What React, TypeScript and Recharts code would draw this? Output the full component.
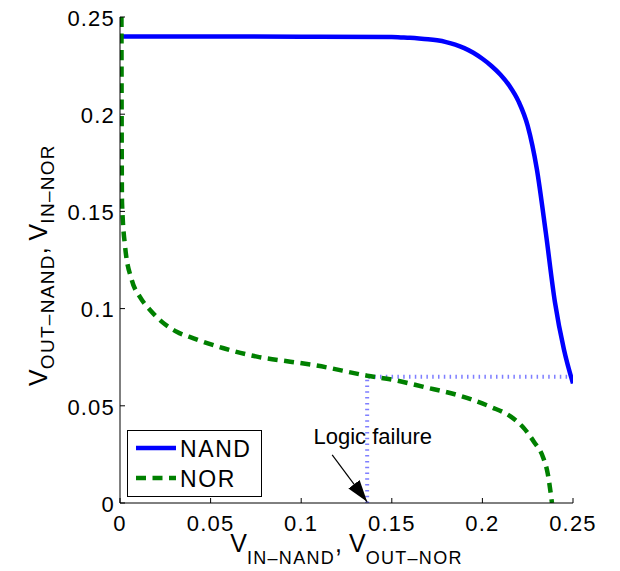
import { Legend, Line, LineChart, ReferenceDot, XAxis, YAxis } from "recharts";

const FONT = "'Liberation Sans', Arial, Helvetica, sans-serif";

// NAND transfer curve
const nandX = [0, 0.05, 0.1, 0.15, 0.155, 0.16, 0.165, 0.17, 0.175, 0.18, 0.185, 0.19, 0.195, 0.2, 0.205, 0.21, 0.215, 0.22, 0.225, 0.23, 0.235, 0.24, 0.245, 0.25];
const nandY = [0.24, 0.24, 0.2399, 0.2397, 0.2395, 0.2393, 0.239, 0.2386, 0.238, 0.2371, 0.2358, 0.234, 0.2316, 0.2285, 0.2248, 0.2203, 0.2145, 0.2065, 0.194, 0.172, 0.139, 0.1035, 0.079, 0.0615];

// NOR transfer curve
const norX = [0.0008, 0.0009, 0.0011, 0.0028, 0.0065, 0.011, 0.0166, 0.023, 0.0313, 0.0406, 0.0572, 0.0756, 0.094, 0.1068, 0.1364, 0.151, 0.1677, 0.186, 0.2047, 0.2157, 0.223, 0.2285, 0.2334, 0.236, 0.2384];
const norY = [0.25, 0.2, 0.155, 0.132, 0.1147, 0.106, 0.0993, 0.0933, 0.0881, 0.0847, 0.0796, 0.0753, 0.0727, 0.071, 0.0655, 0.0633, 0.0597, 0.0556, 0.0494, 0.0444, 0.0384, 0.0314, 0.0237, 0.0154, 0];

// dotted guide through the failure point
const failX = [0.1364, 0.1364, 0.25];
const failY = [0, 0.065, 0.065];

// annotation arrow (start -> tip) and text anchor
const arrowX = [0.1171, 0.1364];
const arrowY = [0.0247, 0.0006];
const noteAt = { x: 0.104, y: 0.0344, text: "Logic failure" };

const ticks = [0, 0.05, 0.1, 0.15, 0.2, 0.25];
const tickText = ["0", "0.05", "0.1", "0.15", "0.2", "0.25"];

const toPoints = (xs: number[], ys: number[]) => xs.map((x, i) => ({ x, y: ys[i] }));
const nandData = toPoints(nandX, nandY);
const norData = toPoints(norX, norY);
const failData = toPoints(failX, failY);
const arrowData = toPoints(arrowX, arrowY);

const fmt = (v: number) => tickText[ticks.indexOf(v)] ?? String(v);

function XTitle({ viewBox }: any) {
  const cx = viewBox.x + viewBox.width / 2;
  return (
    <text x={cx} y={viewBox.y + 49} textAnchor="middle" fontFamily={FONT} fill="#000">
      <tspan fontSize={25}>V</tspan>
      <tspan fontSize={18} dy={12} letterSpacing={1.3}>IN–NAND</tspan>
      <tspan fontSize={25} dy={-12}>, V</tspan>
      <tspan fontSize={18} dy={12} letterSpacing={1.3}>OUT–NOR</tspan>
    </text>
  );
}

function YTitle({ viewBox }: any) {
  const bx = 47;
  const cy = viewBox.y + viewBox.height / 2 + 5;
  return (
    <text
      x={bx}
      y={cy}
      transform={`rotate(-90 ${bx} ${cy})`}
      textAnchor="middle"
      fontFamily={FONT}
      fill="#000"
    >
      <tspan fontSize={25}>V</tspan>
      <tspan fontSize={19} dy={7} letterSpacing={1.3}>OUT–NAND</tspan>
      <tspan fontSize={25} dy={-7}>, V</tspan>
      <tspan fontSize={19} dy={7} letterSpacing={1.3}>IN–NOR</tspan>
    </text>
  );
}

function LegendBox() {
  return (
    <div style={{ width: 135, height: 67, border: "1px solid #000", background: "#fff", boxSizing: "border-box" }}>
      <svg width={133} height={65} style={{ display: "block" }}>
        <line x1={8} x2={48} y1={17} y2={17} stroke="#0000ff" strokeWidth={4.5} />
        <text x={52} y={26} fontSize={23} fontFamily={FONT} letterSpacing={1.6}>NAND</text>
        <line x1={8} x2={48} y1={47} y2={47} stroke="#008000" strokeWidth={4.5} strokeDasharray="10 6.5" />
        <text x={52} y={56} fontSize={23} fontFamily={FONT} letterSpacing={1.6}>NOR</text>
      </svg>
    </div>
  );
}

const tickStyle = { fontSize: 22, fontFamily: FONT, fill: "#000", letterSpacing: 1.2 };

export default function App() {
  return (
    <div style={{ position: "absolute", left: 0, top: 0, background: "#fff" }}>
      <LineChart width={620} height={571} margin={{ top: 17, right: 47, bottom: 0, left: 0 }}>
        <defs>
          <marker id="arrowHead" markerUnits="userSpaceOnUse" markerWidth={24} markerHeight={14} refX={22} refY={7} orient="auto">
            <path d="M0,0 L22,7 L0,14 Z" fill="#000" />
          </marker>
        </defs>
        <XAxis
          dataKey="x"
          type="number"
          domain={[0, 0.25]}
          ticks={ticks}
          allowDataOverflow
          height={68}
          tickSize={-5}
          tickMargin={17}
          tickFormatter={fmt}
          tick={tickStyle}
          stroke="#000"
          label={<XTitle />}
        />
        <XAxis
          xAxisId="top"
          orientation="top"
          dataKey="x"
          type="number"
          domain={[0, 0.25]}
          ticks={ticks}
          allowDataOverflow
          height={0}
          tickSize={-5}
          tick={false}
          stroke="#000"
        />
        <YAxis
          dataKey="y"
          type="number"
          domain={[0, 0.25]}
          ticks={ticks}
          allowDataOverflow
          width={120}
          tickSize={-5}
          tickMargin={10}
          tickFormatter={fmt}
          tick={{ ...tickStyle, dy: 1 }}
          stroke="#000"
          label={<YTitle />}
        />
        <YAxis
          yAxisId="right"
          orientation="right"
          dataKey="y"
          type="number"
          domain={[0, 0.25]}
          ticks={ticks}
          allowDataOverflow
          width={0}
          tickSize={-5}
          tick={false}
          stroke="#000"
        />
        <Legend
          layout="horizontal"
          verticalAlign="middle"
          align="center"
          content={<LegendBox />}
          wrapperStyle={{ left: 127, top: 430, width: 135, height: 67 }}
        />
        <Line
          data={failData}
          dataKey="y"
          type="linear"
          stroke="#7f7fff"
          strokeWidth={4}
          strokeDasharray="1.5 4.3"
          dot={false}
          legendType="none"
          isAnimationActive={false}
        />
        <Line
          data={nandData}
          dataKey="y"
          name="NAND"
          type="monotone"
          stroke="#0000ff"
          strokeWidth={4.5}
          dot={false}
          isAnimationActive={false}
        />
        <Line
          data={norData}
          dataKey="y"
          name="NOR"
          type="monotone"
          stroke="#008000"
          strokeWidth={4.5}
          strokeDasharray="10 6.5"
          dot={false}
          isAnimationActive={false}
        />
        <Line
          data={arrowData}
          dataKey="y"
          type="linear"
          stroke="#000"
          strokeWidth={1.2}
          markerEnd="url(#arrowHead)"
          dot={false}
          legendType="none"
          isAnimationActive={false}
        />
        <ReferenceDot
          x={noteAt.x}
          y={noteAt.y}
          r={0}
          fill="none"
          stroke="none"
          label={{ value: noteAt.text, position: "right", fontSize: 22, fontFamily: FONT, fill: "#000" }}
        />
      </LineChart>
    </div>
  );
}
